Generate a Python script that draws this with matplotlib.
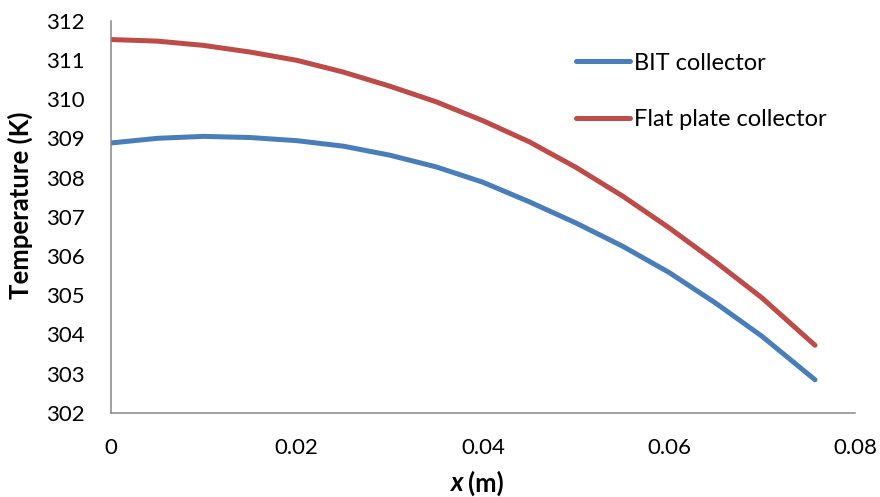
import matplotlib.pyplot as plt

# values
x_m = [0.0, 0.005, 0.010, 0.015, 0.020, 0.025, 0.030, 0.035, 0.040,
       0.045, 0.050, 0.055, 0.060, 0.065, 0.070, 0.0757]
bit_collector = [308.88, 309.00, 309.05, 309.02, 308.94, 308.80, 308.57, 308.27,
                 307.88, 307.38, 306.84, 306.25, 305.58, 304.80, 303.95, 302.84]
flat_plate = [311.52, 311.48, 311.37, 311.20, 310.99, 310.69, 310.33, 309.93,
              309.45, 308.91, 308.26, 307.53, 306.72, 305.85, 304.93, 303.72]
x_ticks = [0, 0.02, 0.04, 0.06, 0.08]
x_ticklabels = ['0', '0.02', '0.04', '0.06', '0.08']
y_ticks = list(range(302, 313))

plt.rcParams['font.family'] = ['Lato', 'DejaVu Sans']
fs = 16

fig = plt.figure(figsize=(8.8, 4.97), dpi=100)
ax = fig.add_axes([0.1258, 0.1696, 0.9716 - 0.1258, 0.9583 - 0.1696])

kwargs = {'linewidth': 3.6, 'solid_capstyle': 'round', 'solid_joinstyle': 'round'}
ax.plot(x_m, bit_collector, color='#4A7EBB', label='BIT collector', **kwargs)
ax.plot(x_m, flat_plate, color='#BE4B48', label='Flat plate collector', **kwargs)

ax.set_xlim(0, 0.08)
ax.set_ylim(302, 312)
ax.set_xticks(x_ticks)
ax.set_xticklabels(x_ticklabels)
ax.set_yticks(y_ticks)
ax.tick_params(axis='both', length=0, labelsize=fs)
ax.tick_params(axis='y', pad=18.5)
ax.tick_params(axis='x', pad=18)

for s in ['top', 'right']:
    ax.spines[s].set_visible(False)
for s in ['left', 'bottom']:
    ax.spines[s].set_color('#868686')
    ax.spines[s].set_linewidth(1.1)

fig.text(20 / 880, 1 - 205 / 497, 'Temperature (K)', fontsize=18.5, fontweight='bold',
         rotation=90, ha='center', va='center')
fig.text(463 / 880, 1 - 483 / 497, 'x', fontsize=18.5, fontweight='bold',
         style='italic', ha='right', va='center')
fig.text(468 / 880, 1 - 483 / 497, '(m)', fontsize=18.5, fontweight='bold',
         ha='left', va='center')

ax.legend(loc='upper left', bbox_to_anchor=(0.63, 0.937),
          bbox_transform=fig.transFigure, frameon=False, fontsize=17,
          handlelength=2.3, handletextpad=0.17, labelspacing=1.5)

plt.savefig('out.png', dpi=100)
